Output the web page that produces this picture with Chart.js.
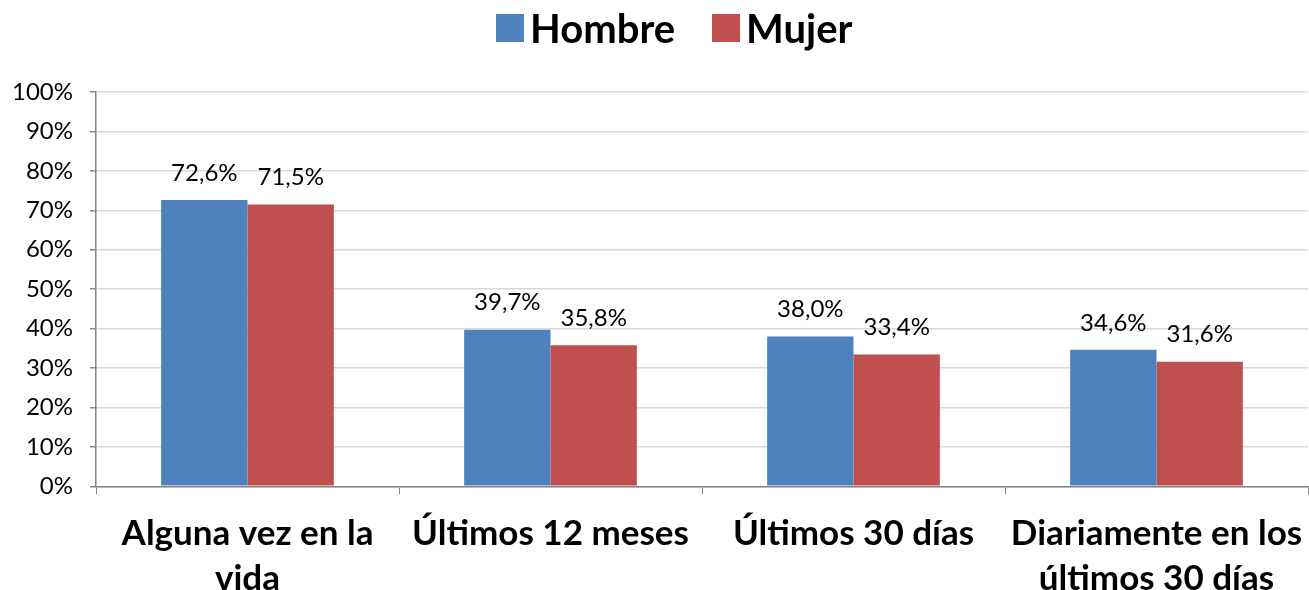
<!DOCTYPE html>
<html><head><meta charset="utf-8">
<script src="https://cdn.jsdelivr.net/npm/chart.js@4"></script>
<style>
html,body{margin:0;padding:0;background:#fff;overflow:hidden;height:590px}
#w{position:relative;width:1309px;height:618px}
#lg{position:absolute;left:496px;top:4px;display:flex;align-items:center;font:bold 40px Lato;color:#000;white-space:nowrap}
#lg .it{display:flex;align-items:center;margin-right:37px}
#lg .bx{width:28px;height:28px;margin-right:6px}
</style>
</head><body><div id="w"><canvas id="c" width="1309" height="618"></canvas><div id="lg"></div></div>
<script>
const categories = [["Alguna vez en la","vida"],"Últimos 12 meses","Últimos 30 días",["Diariamente en los","últimos 30 días"]];
const hombre = [72.6, 39.7, 38.0, 34.6];
const mujer = [71.5, 35.8, 33.4, 31.6];
const seriesNames = ["Hombre","Mujer"];
const seriesColors = ["#4f81bd","#c0504d"];

const labelPlugin = {
  id:'vlabels',
  afterDatasetsDraw(chart){
    const ctx = chart.ctx;
    ctx.save();
    ctx.font = '24px Lato';
    ctx.fillStyle = '#000';
    ctx.textAlign = 'center';
    ctx.textBaseline = 'middle';
    chart.data.datasets.forEach((ds,i)=>{
      chart.getDatasetMeta(i).data.forEach((bar,j)=>{
        ctx.fillText(ds.data[j].toFixed(1).replace('.',',')+'%', bar.x, bar.y-27);
      });
    });
    ctx.restore();
  }
};

const chart = new Chart(document.getElementById('c'),{
  type:'bar',
  data:{labels:categories,datasets:[
    {label:seriesNames[0],data:hombre,backgroundColor:seriesColors[0]},
    {label:seriesNames[1],data:mujer,backgroundColor:seriesColors[1]}
  ]},
  options:{
    responsive:false,animation:false,
    layout:{padding:{top:92,right:1,left:0,bottom:0}},
    datasets:{bar:{categoryPercentage:0.57,barPercentage:1}},
    plugins:{legend:{display:false},tooltip:{enabled:false}},
    scales:{
      y:{min:0,max:100,
        afterFit(s){s.width=96;},
        ticks:{stepSize:10,callback:v=>v+'%',font:{family:'Lato',size:24},color:'#000',padding:17},
        grid:{color:'#d9d9d9',lineWidth:1.5,tickLength:6,tickColor:'#868686'},
        border:{color:'#868686',width:1.5}
      },
      x:{
        afterFit(s){s.paddingLeft=0;s.paddingRight=0;},
        ticks:{font:{family:'Lato',size:35,weight:'bold',lineHeight:1.31},color:'#000',padding:16,maxRotation:0,autoSkip:false},
        grid:{display:true,drawOnChartArea:false,tickLength:8,tickColor:'#868686',offset:true},
        border:{color:'#868686',width:1.5}
      }
    }
  },
  plugins:[labelPlugin]
});
const lg = document.getElementById('lg');
chart.data.datasets.forEach(ds=>{
  const it = document.createElement('div'); it.className='it';
  const bx = document.createElement('span'); bx.className='bx'; bx.style.background=ds.backgroundColor;
  const tx = document.createElement('span'); tx.textContent=ds.label;
  it.appendChild(bx); it.appendChild(tx); lg.appendChild(it);
});
</script></body></html>
